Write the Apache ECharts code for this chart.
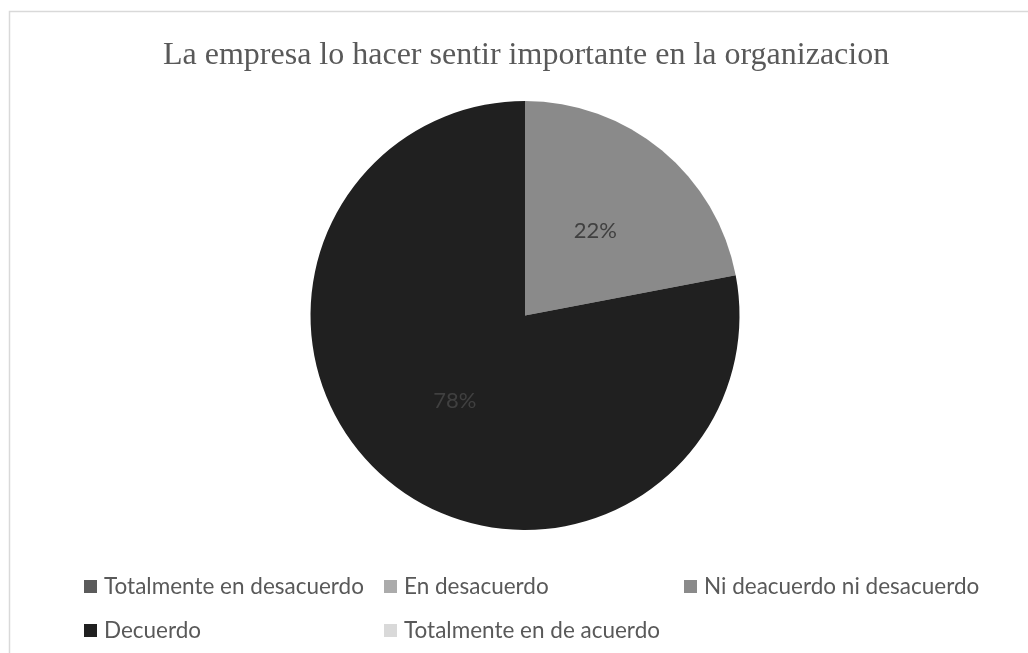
<!DOCTYPE html>
<html>
<head>
<meta charset="utf-8">
<script src="https://cdn.jsdelivr.net/npm/echarts@6/dist/echarts.min.js"></script>
<style>
  html, body { margin: 0; padding: 0; background: #fff; }
  #chart { width: 1028px; height: 653px; }
</style>
</head>
<body>
<div id="chart"></div>
<script>
// Survey answers and their share of respondents (percent)
const categories = [
  'Totalmente en desacuerdo',
  'En desacuerdo',
  'Ni deacuerdo ni desacuerdo',
  'Decuerdo',
  'Totalmente en de acuerdo'
];
const shares = [0, 0, 22, 78, 0];
const colors = ['#5b5b5b', '#ababab', '#8a8a8a', '#202020', '#d9d9d9'];
const titleText = 'La empresa lo hacer sentir importante en la organizacion';

// Legend grid: three columns, two rows
const legendCols = [84, 384, 684];
const legendRows = [575, 619];

const chart = echarts.init(document.getElementById('chart'));

const legends = categories.map((name, i) => ({
  data: [name],
  left: legendCols[i % 3],
  top: legendRows[Math.floor(i / 3)],
  padding: 0,
  icon: 'rect',
  itemWidth: 13,
  itemHeight: 13,
  itemGap: 0,
  selectedMode: false,
  textStyle: {
    fontFamily: 'Lato',
    fontSize: 22.5,
    color: '#595959',
    padding: [0, 0, 0, 2]
  }
}));

chart.setOption({
  animation: false,
  backgroundColor: '#ffffff',
  color: colors,
  title: {
    text: titleText,
    left: 158,
    top: 35,
    textStyle: {
      fontFamily: 'Liberation Serif',
      fontWeight: 'normal',
      fontSize: 32,
      color: '#595959'
    }
  },
  graphic: [{
    type: 'rect',
    silent: true,
    shape: { x: 9.5, y: 11.5, width: 1100, height: 700 },
    style: { fill: 'none', stroke: '#d9d9d9', lineWidth: 1.5 }
  }],
  legend: legends,
  series: [{
    type: 'pie',
    center: [525, 315.5],
    radius: [0, 214.5],
    startAngle: 90,
    clockwise: true,
    avoidLabelOverlap: false,
    itemStyle: { borderWidth: 0 },
    label: {
      show: true,
      position: 'inside',
      fontFamily: 'Lato',
      fontSize: 22,
      color: '#404040',
      formatter: p => (p.value > 0 ? p.value + '%' : '')
    },
    labelLine: { show: false },
    emphasis: { disabled: true },
    data: categories.map((name, i) => ({ name, value: shares[i] }))
  }]
});
</script>
</body>
</html>
